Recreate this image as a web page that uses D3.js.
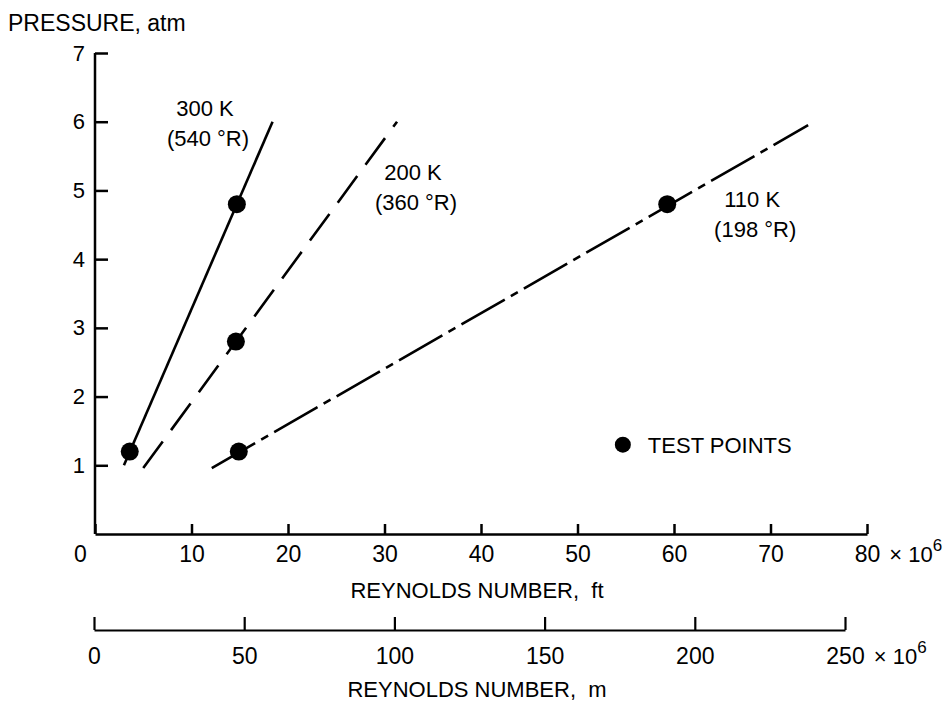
<!DOCTYPE html>
<html>
<head>
<meta charset="utf-8">
<script src="https://cdn.jsdelivr.net/npm/d3@7/dist/d3.min.js"></script>
<style>
  html, body { margin: 0; padding: 0; background: #fff; }
  svg { display: block; }
  .num { font-family: "Liberation Sans", Arial, sans-serif; }
  .txt { font-family: "Liberation Sans", Arial, sans-serif; }
</style>
</head>
<body>
<svg id="chart" width="948" height="706"></svg>
<script>
// ---- data ----
const yTicks = [1, 2, 3, 4, 5, 6, 7];
const xTicksFt = [0, 10, 20, 30, 40, 50, 60, 70, 80];
const xTicksM = [0, 50, 100, 150, 200, 250];
const yTitle = "PRESSURE, atm";
const xTitleFt = "REYNOLDS NUMBER,  ft";
const xTitleM = "REYNOLDS NUMBER,  m";
const seriesNames = ["300 K", "200 K", "110 K"];
const seriesSub = ["(540 \u00B0R)", "(360 \u00B0R)", "(198 \u00B0R)"];
const lineRe300 = [3.0, 18.4];
const lineP300 = [1.0, 6.0];
const lineRe200 = [5.0, 31.3];
const lineP200 = [0.96, 6.0];
const lineRe110 = [12.1, 73.9];
const lineP110 = [0.96, 5.95];
const testRe = [3.6, 14.7, 14.6, 14.9, 59.3];
const testP = [1.2, 4.8, 2.8, 1.2, 4.8];
const legendLabel = "TEST POINTS";

// ---- scales ----
const svg = d3.select("#chart");
const x = d3.scaleLinear().domain([0, 80]).range([95, 867]);
const y = d3.scaleLinear().domain([0, 7]).range([534, 53]);
const xm = d3.scaleLinear().domain([0, 250]).range([94, 845]);
const axisY0 = y(0);
const axisM = 630;

// ---- y axis ----
const gy = svg.append("g").attr("transform", `translate(${x(0)},0)`)
  .call(d3.axisLeft(y).tickValues(yTicks).tickFormat(d3.format("d"))
    .tickSizeInner(-13).tickSizeOuter(0).tickPadding(10));
gy.select(".domain").attr("d", `M0,${y(7)}V${axisY0}`);
gy.selectAll("path,line").attr("stroke", "#000").attr("stroke-width", 2.5);
gy.selectAll("text").attr("class", "num").attr("font-size", 22).attr("fill", "#000");

// ---- x axis (ft) ----
const gx = svg.append("g").attr("transform", `translate(0,${axisY0})`)
  .call(d3.axisBottom(x).tickValues(xTicksFt).tickFormat(d3.format("d"))
    .tickSizeInner(-10).tickSizeOuter(0).tickPadding(12));
gx.selectAll("path,line").attr("stroke", "#000").attr("stroke-width", 2.5);
gx.selectAll("text").attr("class", "num").attr("font-size", 23).attr("fill", "#000");
gx.selectAll(".tick").filter(d => d === 0).select("text").attr("x", -15);

// ---- x axis (m) ----
const gm = svg.append("g").attr("transform", `translate(0,${axisM})`)
  .call(d3.axisBottom(xm).tickValues(xTicksM).tickFormat(d3.format("d"))
    .tickSizeInner(-13).tickSizeOuter(0).tickPadding(18));
gm.selectAll("path,line").attr("stroke", "#000").attr("stroke-width", 2.2);
gm.selectAll("text").attr("class", "num").attr("font-size", 23).attr("fill", "#000");

// multiplier "× 10^6" after the last tick labels
function addMultiplier(g, lastVal) {
  const t = g.selectAll(".tick").filter(d => d === lastVal).select("text");
  const node = t.node();
  const bb = node.getBBox();
  const tick = d3.select(node.parentNode);
  const m = tick.append("text").attr("class", "num")
    .attr("x", bb.x + bb.width + 9)
    .attr("y", t.attr("y"))
    .attr("dy", t.attr("dy"))
    .attr("font-size", 22).attr("fill", "#000").attr("text-anchor", "start")
    .attr("xml:space", "preserve");
  m.append("tspan").text("\u00D7 10");
  m.append("tspan").attr("dy", -11).attr("font-size", 17).text("6");
}
addMultiplier(gx, 80);
addMultiplier(gm, 250);

// ---- titles ----
svg.append("text").attr("class", "txt").attr("x", 8).attr("y", 31)
  .attr("font-size", 23).text(yTitle);
svg.append("text").attr("class", "txt").attr("x", 477).attr("y", 598)
  .attr("text-anchor", "middle").attr("font-size", 22).attr("xml:space", "preserve").text(xTitleFt);
svg.append("text").attr("class", "txt").attr("x", 477).attr("y", 697)
  .attr("text-anchor", "middle").attr("font-size", 22).attr("xml:space", "preserve").text(xTitleM);

// ---- lines ----
const lines = [
  { re: lineRe300, p: lineP300, dash: null },
  { re: lineRe200, p: lineP200, dash: "33,14" },
  { re: lineRe110, p: lineP110, dash: "50,7,8,7" }
];
const lineGen = d3.line().x(d => x(d[0])).y(d => y(d[1]));
lines.forEach(l => {
  const pts = l.re.map((r, i) => [r, l.p[i]]);
  svg.append("path").attr("d", lineGen(pts))
    .attr("fill", "none").attr("stroke", "#000").attr("stroke-width", 2.6)
    .attr("stroke-dasharray", l.dash);
});

// ---- test points ----
svg.append("g").selectAll("circle")
  .data(testRe.map((r, i) => [r, testP[i]]))
  .join("circle")
  .attr("cx", d => x(d[0])).attr("cy", d => y(d[1])).attr("r", 9)
  .attr("fill", "#000");

// ---- series labels ----
const labelPos = [[11.4, 6.08], [32.95, 5.15], [68.1, 4.76]];
seriesNames.forEach((n, i) => {
  const [lx, ly] = labelPos[i];
  svg.append("text").attr("class", "txt").attr("x", x(lx)).attr("y", y(ly))
    .attr("text-anchor", "middle").attr("font-size", 22).text(n);
  svg.append("text").attr("class", "txt").attr("x", x(lx) + 3).attr("y", y(ly) + 30)
    .attr("text-anchor", "middle").attr("font-size", 22).text(seriesSub[i]);
});

// ---- legend ----
const lg = svg.append("g").attr("transform", `translate(${x(54.7)},${y(1.3)})`);
lg.append("circle").attr("r", 8).attr("fill", "#000");
lg.append("text").attr("class", "txt").attr("x", 25).attr("y", 8)
  .attr("font-size", 22).text(legendLabel);
</script>
</body>
</html>
